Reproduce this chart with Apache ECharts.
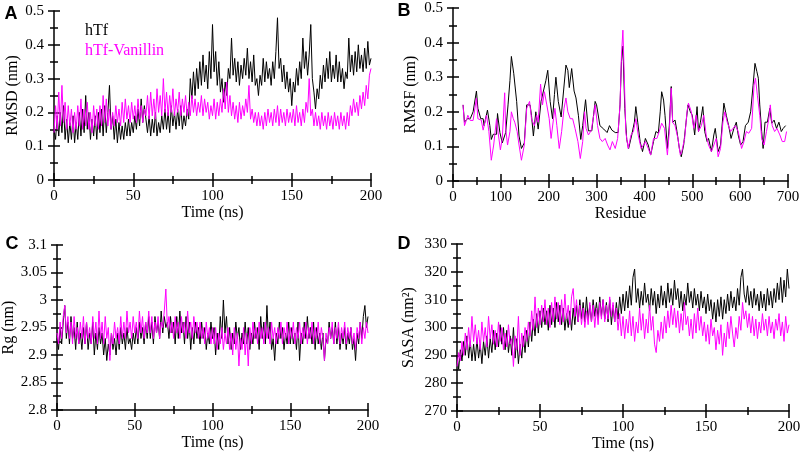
<!DOCTYPE html>
<html>
<head>
<meta charset="utf-8">
<script src="https://cdn.jsdelivr.net/npm/echarts@6/dist/echarts.min.js"></script>
<style>html,body{margin:0;padding:0;background:#fff}#c{width:803px;height:454px}</style>
</head>
<body>
<div id="c"></div>
<script>
// ---------- DATA ----------
const seriesNames = ['hTf', 'hTf-Vanillin'];
const timeStepNs = 1; // one sample per ns, t = 0..200

// Panel A: RMSD (nm) vs time
const rmsdHTf = [0.15,0.12,0.19,0.13,0.20,0.14,0.22,0.12,0.18,0.11,0.17,
0.12,0.19,0.11,0.17,0.12,0.2,0.13,0.21,0.14,0.25,
0.15,0.2,0.12,0.18,0.13,0.19,0.12,0.2,0.14,0.21,
0.13,0.22,0.14,0.2,0.28,0.15,0.19,0.12,0.18,0.11,
0.17,0.12,0.16,0.12,0.17,0.13,0.18,0.13,0.17,0.14,
0.19,0.15,0.21,0.16,0.24,0.17,0.22,0.18,0.14,0.19,
0.13,0.18,0.14,0.2,0.13,0.17,0.14,0.19,0.15,0.21,
0.15,0.2,0.14,0.22,0.16,0.2,0.15,0.21,0.16,0.22,
0.15,0.19,0.16,0.21,0.18,0.3,0.24,0.32,0.25,0.33,
0.27,0.35,0.28,0.37,0.29,0.34,0.27,0.38,0.3,0.46,
0.32,0.38,0.28,0.35,0.26,0.3,0.23,0.29,0.25,0.33,
0.3,0.42,0.31,0.36,0.29,0.35,0.28,0.34,0.3,0.36,
0.31,0.39,0.3,0.35,0.29,0.37,0.28,0.3,0.25,0.31,
0.28,0.36,0.29,0.35,0.3,0.33,0.28,0.35,0.3,0.38,
0.48,0.33,0.36,0.29,0.34,0.27,0.32,0.26,0.3,0.22,
0.29,0.26,0.33,0.28,0.35,0.3,0.42,0.33,0.38,0.31,
0.37,0.46,0.3,0.26,0.21,0.27,0.24,0.31,0.27,0.34,
0.29,0.36,0.3,0.38,0.29,0.34,0.3,0.37,0.29,0.35,
0.29,0.33,0.27,0.32,0.3,0.42,0.32,0.37,0.31,0.38,
0.32,0.4,0.33,0.37,0.32,0.39,0.33,0.41,0.34,0.36];
const rmsdVan = [0.14,0.22,0.15,0.26,0.16,0.28,0.17,0.23,0.15,0.22,0.16,
0.21,0.14,0.2,0.15,0.22,0.16,0.24,0.15,0.21,0.16,
0.23,0.15,0.2,0.14,0.22,0.16,0.21,0.15,0.22,0.16,
0.25,0.17,0.24,0.16,0.21,0.15,0.2,0.16,0.22,0.17,
0.21,0.16,0.23,0.17,0.24,0.18,0.22,0.17,0.23,0.18,
0.22,0.17,0.24,0.18,0.22,0.17,0.21,0.19,0.25,0.18,
0.26,0.19,0.24,0.18,0.27,0.2,0.25,0.19,0.3,0.2,
0.26,0.19,0.25,0.2,0.27,0.19,0.24,0.2,0.26,0.19,
0.24,0.2,0.25,0.19,0.23,0.19,0.25,0.2,0.24,0.19,
0.23,0.2,0.25,0.19,0.24,0.2,0.23,0.18,0.22,0.19,
0.24,0.18,0.23,0.19,0.24,0.2,0.27,0.21,0.29,0.2,
0.25,0.19,0.23,0.18,0.22,0.17,0.23,0.18,0.22,0.19,
0.24,0.2,0.28,0.18,0.21,0.17,0.2,0.16,0.2,0.16,
0.19,0.15,0.2,0.16,0.21,0.17,0.2,0.16,0.21,0.17,
0.22,0.16,0.21,0.17,0.2,0.16,0.21,0.17,0.2,0.17,
0.21,0.16,0.22,0.17,0.2,0.16,0.21,0.17,0.23,0.2,
0.3,0.19,0.21,0.16,0.2,0.16,0.19,0.15,0.2,0.16,
0.19,0.15,0.2,0.16,0.19,0.15,0.2,0.16,0.19,0.15,
0.2,0.16,0.19,0.15,0.2,0.16,0.22,0.19,0.24,0.2,
0.23,0.19,0.25,0.21,0.26,0.22,0.28,0.24,0.31,0.33];

// Panel B: RMSF (nm) vs residue, [residue, value]
const rmsfHTf = [[21,0.22],[24,0.17],[30,0.18],[36,0.18],[42,0.2],[49,0.26],[52,0.21],[58,0.18],[63,0.18],[65,0.16],
[72,0.205],[77,0.16],[80,0.12],[84,0.135],[91,0.135],[93,0.195],[98,0.14],[103,0.11],[110,0.14],[115,0.22],
[119,0.29],[122,0.36],[127,0.31],[133,0.23],[138,0.13],[143,0.094],[149,0.11],[154,0.22],[161,0.22],[164,0.19],
[168,0.13],[173,0.2],[178,0.15],[184,0.23],[189,0.26],[194,0.29],[198,0.32],[203,0.23],[208,0.18],[212,0.25],
[215,0.3],[220,0.23],[226,0.185],[231,0.26],[236,0.335],[240,0.32],[243,0.27],[248,0.325],[253,0.26],[257,0.24],
[262,0.19],[267,0.12],[271,0.16],[277,0.235],[283,0.145],[290,0.145],[297,0.23],[300,0.22],[307,0.16],[315,0.15],
[322,0.14],[327,0.16],[332,0.147],[339,0.14],[345,0.14],[349,0.22],[352,0.345],[355,0.39],[359,0.21],[363,0.12],
[367,0.094],[373,0.13],[379,0.17],[382,0.215],[386,0.17],[391,0.114],[396,0.085],[402,0.123],[408,0.104],[413,0.075],
[419,0.114],[424,0.143],[429,0.138],[433,0.2],[436,0.258],[440,0.234],[443,0.19],[448,0.094],[452,0.16],[456,0.273],
[459,0.17],[464,0.176],[468,0.143],[473,0.094],[477,0.07],[482,0.104],[487,0.17],[491,0.22],[496,0.2],[500,0.19],
[505,0.133],[510,0.215],[513,0.143],[517,0.17],[522,0.215],[526,0.143],[531,0.114],[534,0.123],[540,0.085],[545,0.133],
[548,0.152],[554,0.085],[559,0.104],[564,0.19],[566,0.225],[571,0.19],[576,0.16],[581,0.123],[587,0.152],[592,0.17],
[596,0.133],[601,0.104],[606,0.114],[611,0.16],[617,0.17],[622,0.2],[627,0.277],[631,0.34],[635,0.316],[638,0.297],
[641,0.22],[645,0.143],[648,0.094],[652,0.17],[657,0.17],[662,0.21],[666,0.167],[671,0.176],[676,0.152],[681,0.17],
[686,0.143],[690,0.152],[695,0.16]];
const rmsfVan = [[21,0.22],[24,0.16],[28,0.176],[31,0.19],[36,0.175],[42,0.175],[49,0.24],[52,0.18],[59,0.176],[63,0.147],
[70,0.19],[75,0.143],[80,0.06],[85,0.104],[91,0.18],[94,0.143],[99,0.09],[103,0.123],[108,0.255],[110,0.152],
[114,0.104],[119,0.143],[122,0.2],[126,0.18],[129,0.17],[134,0.143],[138,0.104],[143,0.06],[149,0.104],[154,0.21],
[160,0.23],[164,0.18],[170,0.16],[175,0.19],[178,0.17],[183,0.28],[187,0.22],[191,0.258],[196,0.22],[201,0.18],
[205,0.123],[210,0.18],[213,0.21],[217,0.16],[222,0.094],[227,0.143],[232,0.21],[236,0.24],[240,0.2],[245,0.18],
[250,0.18],[255,0.152],[261,0.114],[266,0.065],[271,0.114],[275,0.2],[278,0.152],[283,0.133],[289,0.147],[294,0.19],
[297,0.22],[302,0.16],[307,0.123],[312,0.114],[318,0.123],[323,0.104],[328,0.09],[333,0.114],[339,0.094],[344,0.123],
[349,0.22],[352,0.364],[355,0.436],[358,0.297],[361,0.143],[366,0.094],[372,0.133],[377,0.143],[382,0.18],[387,0.133],
[393,0.094],[398,0.104],[402,0.114],[408,0.094],[413,0.075],[419,0.123],[426,0.123],[431,0.143],[436,0.167],[442,0.152],
[448,0.075],[452,0.143],[456,0.268],[459,0.17],[464,0.16],[470,0.123],[475,0.075],[478,0.085],[484,0.123],[489,0.2],
[492,0.225],[498,0.2],[503,0.152],[508,0.19],[513,0.143],[519,0.16],[524,0.19],[529,0.133],[534,0.104],[540,0.085],
[545,0.104],[550,0.123],[554,0.07],[559,0.094],[564,0.17],[568,0.2],[573,0.17],[580,0.143],[585,0.152],[590,0.16],
[596,0.143],[603,0.094],[608,0.114],[613,0.143],[618,0.138],[624,0.152],[629,0.277],[632,0.297],[636,0.248],[641,0.19],
[645,0.123],[650,0.104],[655,0.143],[660,0.18],[663,0.22],[667,0.16],[672,0.143],[677,0.152],[683,0.133],[688,0.114],
[693,0.114],[697,0.143]];

// Panel C: Rg (nm) vs time
const rgHTf = [2.93,2.91,2.95,2.92,2.96,2.99,2.93,2.96,2.92,2.97,2.93,
2.95,2.91,2.96,2.92,2.94,2.91,2.95,2.92,2.96,2.91,
2.94,2.92,2.96,2.9,2.94,2.91,2.95,2.92,2.94,2.9,
2.93,2.89,2.92,2.9,2.94,2.91,2.93,2.9,2.94,2.91,
2.95,2.92,2.94,2.91,2.95,2.92,2.93,2.91,2.94,2.92,
2.95,2.92,2.96,2.93,2.95,2.92,2.96,2.93,2.97,2.93,
2.96,2.92,2.97,2.94,2.96,2.93,2.98,2.94,2.97,2.95,
2.96,2.93,2.97,2.94,2.96,2.92,2.97,2.93,2.98,2.94,
2.96,2.92,2.97,2.93,2.96,2.91,2.95,2.92,2.96,2.93,
2.95,2.92,2.96,2.93,2.95,2.91,2.94,2.92,2.96,2.93,
2.95,2.9,2.94,2.91,2.97,2.93,3.0,2.94,2.97,2.92,
2.95,2.91,2.94,2.92,2.96,2.93,2.95,2.91,2.94,2.92,
2.96,2.92,2.95,2.91,2.94,2.92,2.96,2.93,2.95,2.91,
2.97,2.93,2.96,2.92,2.99,2.93,2.96,2.91,2.93,2.89,
2.94,2.92,2.96,2.93,2.95,2.91,2.94,2.92,2.96,2.92,
2.95,2.92,2.94,2.91,2.96,2.89,2.94,2.92,2.96,2.93,
2.97,2.93,2.95,2.92,2.96,2.91,2.95,2.92,2.94,2.91,
2.94,2.89,2.93,2.92,2.96,2.93,2.95,2.92,2.96,2.92,
2.95,2.91,2.94,2.92,2.95,2.91,2.94,2.92,2.95,2.91,
2.93,2.89,2.94,2.92,2.96,2.93,2.97,2.99,2.95,2.97];
const rgVan = [2.94,2.92,2.96,2.93,2.97,2.99,2.94,2.97,2.93,2.96,2.92,
2.97,2.93,2.95,2.92,2.96,2.93,2.97,2.92,2.96,2.93,
2.95,2.92,2.97,2.93,2.96,2.92,2.98,2.93,2.96,2.92,
2.97,2.93,2.95,2.89,2.94,2.92,2.96,2.93,2.95,2.92,
2.97,2.93,2.96,2.93,2.98,2.94,2.96,2.93,2.97,2.94,
2.96,2.93,2.98,2.94,2.97,2.93,2.96,2.94,2.98,2.94,
2.97,2.93,2.96,2.94,2.97,2.93,2.96,2.95,2.98,3.02,
2.95,2.97,2.94,2.96,2.93,2.97,2.94,2.96,2.93,2.97,
2.94,2.96,2.93,2.98,2.94,2.96,2.93,2.97,2.94,2.96,
2.93,2.96,2.93,2.95,2.92,2.96,2.93,2.95,2.92,2.95,
2.92,2.95,2.91,2.94,2.92,2.95,2.91,2.94,2.92,2.95,
2.91,2.94,2.9,2.95,2.91,2.94,2.88,2.93,2.91,2.95,
2.9,2.94,2.88,2.95,2.92,2.96,2.93,2.95,2.92,2.96,
2.93,2.95,2.92,2.96,2.93,2.95,2.92,2.96,2.93,2.95,
2.92,2.95,2.93,2.96,2.92,2.95,2.93,2.96,2.92,2.95,
2.93,2.96,2.92,2.95,2.93,2.96,2.92,2.95,2.93,2.96,
2.92,2.95,2.93,2.96,2.92,2.95,2.93,2.96,2.92,2.95,
2.93,2.89,2.94,2.92,2.95,2.93,2.96,2.92,2.95,2.93,
2.96,2.92,2.95,2.93,2.96,2.92,2.95,2.93,2.95,2.92,
2.94,2.91,2.95,2.93,2.96,2.92,2.95,2.93,2.96,2.94];

// Panel D: SASA (nm^2) vs time
const sasaHTf = [290,285,292,288,295,290,297,289,295,288,294,
288,296,289,294,287,295,290,297,289,296,
291,299,292,298,293,301,294,300,292,299,
291,297,290,300,289,296,287,294,289,297,
291,299,293,302,295,303,297,305,298,306,
300,307,301,306,299,308,301,307,300,309,
302,308,301,307,299,305,300,306,299,307,
301,308,302,310,303,309,302,311,303,308,
302,310,304,309,303,311,304,310,303,309,
302,310,301,308,302,309,303,311,305,312,
306,313,307,315,308,318,321,309,314,307,
313,308,316,309,312,306,314,308,313,305,
312,307,315,308,313,307,316,309,314,308,
317,310,314,307,313,306,312,308,316,309,
313,307,314,308,312,306,313,307,311,305,
312,306,310,303,309,302,310,304,311,303,
310,305,312,306,313,307,311,306,314,308,
318,321,312,309,315,308,313,307,314,308,
312,306,313,307,312,306,314,308,313,307,
314,309,316,310,318,309,317,311,321,314];
const sasaVan = [286,291,288,295,290,298,292,300,293,304,295,
301,294,299,292,302,295,300,293,304,296,
301,294,299,293,302,295,300,292,298,293,
301,294,296,286,297,292,304,290,298,293,
300,295,302,297,306,299,311,300,307,301,
308,302,310,301,307,300,309,302,311,303,
309,301,310,302,312,303,308,301,311,314,
304,310,302,308,301,307,300,306,301,309,
302,308,300,307,301,309,303,310,302,308,
303,311,304,309,302,307,299,305,297,304,
296,303,298,306,297,304,295,302,298,307,
299,305,296,303,298,308,299,304,294,291,
299,295,302,296,304,298,306,300,308,301,
307,300,306,298,305,299,309,301,304,297,
303,296,305,298,307,299,304,297,302,295,
301,294,303,297,300,292,299,294,301,290,
298,293,302,296,304,298,293,300,296,304,
299,309,303,306,300,305,298,304,297,303,
296,302,298,305,299,303,297,304,298,302,
296,303,299,305,297,302,295,304,298,301];

// ---------- CHART ----------
const SERIF = '"Liberation Serif", "Times New Roman", serif';
const SANS = '"Liberation Sans", Arial, sans-serif';
const BLACK = '#000000', MAGENTA = '#ff00ff';

function timed(values) { return values.map((v, i) => [i * timeStepNs, v]); }

const grids = [
  {left: 54, top: 11, width: 317, height: 169},
  {left: 453, top: 8, width: 335, height: 173},
  {left: 57, top: 245, width: 311, height: 165},
  {left: 457, top: 244, width: 332, height: 167}
].map(g => Object.assign({outerBoundsMode: 'none', containLabel: false}, g));

const tickStyle = {color: '#000', width: 1.5};
function axisPair(kind, gridIndex, min, max, interval, name, nameGap) {
  const isX = kind === 'x';
  const common = {type: 'value', gridIndex, min, max, interval,
    position: isX ? 'bottom' : 'left', splitLine: {show: false}};
  const main = Object.assign({}, common, {
    name, nameLocation: 'middle', nameGap,
    nameTextStyle: {fontFamily: SERIF, fontSize: 16, color: '#000'},
    axisLine: {show: true, onZero: false, lineStyle: {color: '#000', width: 1.5}},
    axisTick: {show: true, inside: false, length: isX ? 7 : 6, lineStyle: tickStyle},
    minorTick: {show: true, splitNumber: 2, length: 4, lineStyle: tickStyle},
    axisLabel: {fontFamily: SERIF, fontSize: 15, color: '#000', margin: isX ? 9 : 10,
      showMinLabel: true, showMaxLabel: true}
  });
  const mirror = Object.assign({}, common, {
    axisLine: {show: false, onZero: false},
    axisTick: {show: true, inside: true, length: isX ? 7 : 6, lineStyle: tickStyle},
    minorTick: {show: true, splitNumber: 2, length: 4, lineStyle: tickStyle},
    axisLabel: {show: false}
  });
  return [main, mirror];
}

const xAxis = [].concat(
  axisPair('x', 0, 0, 200, 50, 'Time (ns)', 23),
  axisPair('x', 1, 0, 700, 100, 'Residue', 25),
  axisPair('x', 2, 0, 200, 50, 'Time (ns)', 24),
  axisPair('x', 3, 0, 200, 50, 'Time (ns)', 24)
);
const yAxis = [].concat(
  axisPair('y', 0, 0, 0.5, 0.1, 'RMSD (nm)', 33),
  axisPair('y', 1, 0, 0.5, 0.1, 'RMSF (nm)', 34),
  axisPair('y', 2, 2.8, 3.1, 0.05, 'Rg (nm)', 40),
  axisPair('y', 3, 270, 330, 10, 'SASA (nm²)', 40)
);

function line(name, g, data, color) {
  return {type: 'line', name, xAxisIndex: 2 * g, yAxisIndex: 2 * g, data,
    showSymbol: false, symbol: 'none', sampling: null, clip: true,
    lineStyle: {color, width: 1}, itemStyle: {color}, emphasis: {disabled: true}};
}

const series = [
  line(seriesNames[0], 0, timed(rmsdHTf), BLACK),
  line(seriesNames[1], 0, timed(rmsdVan), MAGENTA),
  line(seriesNames[0], 1, rmsfHTf, BLACK),
  line(seriesNames[1], 1, rmsfVan, MAGENTA),
  line(seriesNames[0], 2, timed(rgHTf), BLACK),
  line(seriesNames[1], 2, timed(rgVan), MAGENTA),
  line(seriesNames[0], 3, timed(sasaHTf), BLACK),
  line(seriesNames[1], 3, timed(sasaVan), MAGENTA)
];

const panelLetters = ['A', 'B', 'C', 'D'];
const letterPos = [[11, 14], [404, 11], [12, 244], [404, 244]];

const option = {
  animation: false,
  backgroundColor: '#fff',
  grid: grids,
  xAxis, yAxis, series,
  legend: {
    left: 75, top: 18, orient: 'vertical', itemGap: 4,
    itemWidth: 0, itemHeight: 0, icon: 'rect', selectedMode: false,
    textStyle: {fontFamily: SERIF, fontSize: 16, lineHeight: 16},
    data: [
      {name: seriesNames[0], textStyle: {color: BLACK}},
      {name: seriesNames[1], textStyle: {color: MAGENTA}}
    ]
  },
  graphic: panelLetters.map((t, i) => ({
    type: 'text', x: letterPos[i][0], y: letterPos[i][1],
    style: {text: t, font: 'bold 18px ' + SANS, fill: '#000', align: 'center', verticalAlign: 'middle'}
  }))
};

const chart = echarts.init(document.getElementById('c'), null, {renderer: 'canvas'});
chart.setOption(option);
</script>
</body>
</html>
